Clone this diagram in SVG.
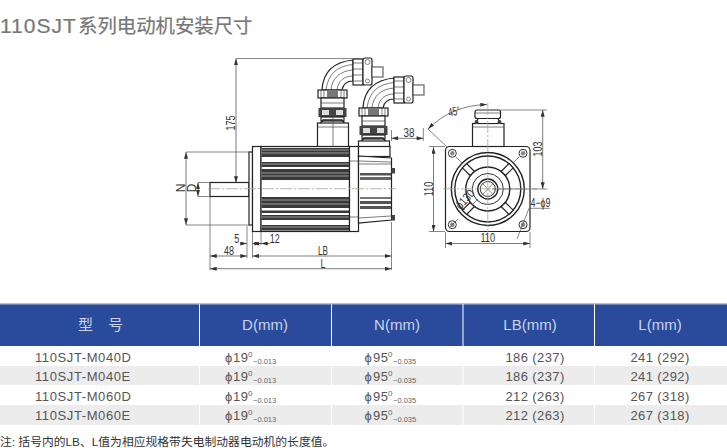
<svg xmlns="http://www.w3.org/2000/svg" xmlns:xlink="http://www.w3.org/1999/xlink" width="727" height="448" viewBox="0 0 727 448">
<style>
text{font-family:"Liberation Sans","Noto Sans CJK SC",sans-serif}
.l{fill:none;stroke:#333;stroke-width:1}
.b{fill:none;stroke:#222;stroke-width:1.4}
.w{fill:#fff;stroke:#222;stroke-width:1.2}
.t{fill:none;stroke:#444;stroke-width:.7}
.c{fill:none;stroke:#a5a595;stroke-width:.8;stroke-dasharray:12 2 2 2}
.d{fill:none;stroke:#555;stroke-width:.7}
.a{fill:none;stroke:#444;stroke-width:.7;marker-start:url(#ar);marker-end:url(#ar)}
.e{fill:none;stroke:#444;stroke-width:.7;marker-end:url(#ar)}
.dim{font-size:12px;fill:#333;text-anchor:middle}
.h{font-size:15px;fill:#c9d4ec;text-anchor:middle}
.r{font-size:13px;fill:#555;letter-spacing:.6px}
.m{font-size:13px;fill:#555;text-anchor:middle;letter-spacing:.4px}
.s{font-size:7.500px;fill:#666}
.u{font-size:8px;fill:#666}
</style>
<defs>
<marker id="ar" viewBox="0 0 10 6" refX="10" refY="3" markerWidth="7" markerHeight="4" markerUnits="userSpaceOnUse" orient="auto-start-reverse"><path d="M0 0L10 3L0 6Z" fill="#333"/></marker>
<g id="plug">
<path class="w" d="M322 90C323 72 333 62 353 60V81C347 81 343 84 342 90Z"/>
<path class="t" d="M326 90C328 74 337 66 353 64.500M331 90C332 78 340 71 353 70M337 90C338 81 344 76 353 76"/>
<rect class="w" x="353" y="59" width="10" height="26"/>
<path class="t" d="M353 63H363M353 69H363M353 75H363M353 81H363"/>
<rect class="w" x="363" y="58" width="9" height="27" rx="2"/>
<circle class="d" cx="367.500" cy="62" r="2.500" fill="#888"/><circle class="d" cx="367.500" cy="81" r="2"/>
<rect class="w" x="372" y="67" width="11" height="10" stroke-opacity=".7"/>
<rect class="w" x="318" y="90" width="29" height="8"/>
<rect x="327" y="91" width="11" height="6.500" fill="#777"/>
<path class="t" d="M321 90V98M324 90V98M341 90V98M344 90V98"/>
<rect class="w" x="321" y="98" width="23" height="10"/>
<path class="t" d="M321 103H344"/>
<rect x="318.500" y="108" width="28" height="9" fill="#444"/>
<rect x="322" y="110" width="7" height="5" fill="#ddd"/><rect x="336" y="110" width="7" height="5" fill="#ddd"/>
<rect class="w" x="321" y="117" width="23" height="4"/>
<path class="b" d="M320 124L323 120H342L345 124"/>
</g>
</defs>
<rect width="727" height="448" fill="#fff"/>
<g id="title">
<text x="0" y="33" font-size="21" fill="#777" stroke="#777" stroke-width=".2" letter-spacing="1">110SJT</text>
<text x="78" y="33" font-size="19.400" fill="#777" stroke="#777" stroke-width=".2">系列电动机安装尺寸</text>
</g>
<g id="motor-side">
<use xlink:href="#plug" href="#plug"/>
<use xlink:href="#plug" href="#plug" x="41" y="18"/>
<rect class="w" x="317.500" y="123" width="31" height="24"/>
<path class="t" d="M317.500 127H348.500M333 117V147"/>
<rect class="w" x="358.500" y="141" width="31" height="6"/>
<rect class="w" x="210" y="182.500" width="39" height="14"/>
<rect class="w" x="249" y="152" width="3.500" height="73"/>
<rect class="w" x="252.500" y="146.500" width="8.500" height="85"/>
<rect class="w" x="261" y="146.500" width="88.500" height="85"/>
<g fill="#3a3a3a">
<rect x="261.500" y="148" width="87.500" height="9"/><rect x="261.500" y="162" width="87.500" height="5"/>
<rect x="261.500" y="169" width="87.500" height="11"/>
<rect x="261.500" y="197" width="87.500" height="11"/><rect x="261.500" y="210.500" width="87.500" height="2.500"/>
<rect x="261.500" y="215" width="87.500" height="5"/><rect x="261.500" y="225" width="87.500" height="5.500"/>
</g>
<path stroke="#ddd" stroke-width=".6" d="M261.500 150H349M261.500 153H349M261.500 164H349M261.500 173H349M261.500 176H349M261.500 200H349M261.500 204H349M261.500 217H349M261.500 227H349"/>
<rect class="w" x="349.500" y="146.500" width="9" height="85"/>
<path class="t" d="M349.500 161H358.500M349.500 217H358.500"/>
<rect class="w" x="358.500" y="146.500" width="31.500" height="10"/>
<path class="w" d="M358.500 156L391.500 158V220L358.500 223Z"/>
<path class="t" d="M358.500 164H391M358.500 161L391.500 162M358.500 218L391 216"/>
<rect x="360" y="173" width="31" height="2.500" fill="#555"/><rect x="360" y="177" width="31" height="3" fill="#666"/>
<rect x="360" y="197" width="31" height="2" fill="#777"/><rect x="360" y="201" width="31" height="3" fill="#555"/><rect x="360" y="206" width="31" height="3" fill="#555"/>
<rect x="391.500" y="168" width="3.500" height="5.500" fill="#444"/><rect x="391.500" y="215" width="3.500" height="5.500" fill="#444"/>
<path class="c" d="M208 188.700H396"/>
</g>
<g id="motor-front">
<rect class="w" x="445.500" y="146.500" width="84.500" height="85" rx="4"/>
<circle class="b" cx="487.800" cy="189" r="36.500"/><circle class="b" cx="487.800" cy="189" r="33"/>
<circle class="b" cx="487.800" cy="189" r="22"/><circle class="l" cx="487.800" cy="189" r="15.500"/>
<circle class="b" cx="487.800" cy="189" r="10"/><circle class="l" cx="487.800" cy="189" r="7.500"/>
<path class="w" d="M470.100 175.500L462.400 167.800L466.600 163.600L474.300 171.300ZM505.500 175.500L513.200 167.800L509 163.600L501.300 171.300ZM470.100 202.500L462.400 210.200L466.600 214.400L474.300 206.700ZM505.500 202.500L513.200 210.200L509 214.400L501.300 206.700Z"/>
<g class="l"><circle cx="452.300" cy="153.300" r="4"/><circle cx="523" cy="153.300" r="4"/><circle cx="452.300" cy="224.700" r="4"/><circle cx="523" cy="224.700" r="4"/></g>
<g fill="#888"><circle cx="452.300" cy="153.300" r="2.200"/><circle cx="523" cy="153.300" r="2.200"/><circle cx="452.300" cy="224.700" r="2.200"/><circle cx="523" cy="224.700" r="2.200"/></g>
<path class="d" d="M456 157L462 163M519 157L513 163M481.500 182.500L494 195.500M481.500 195.500L494 182.500"/>
<rect class="w" x="472.500" y="123.500" width="31.500" height="23"/>
<path class="t" d="M472.500 127H504"/>
<path class="w" d="M476 123.500L478 118.500H498L500 123.500Z"/>
<rect class="w" x="475" y="110" width="25.500" height="8.500" rx="2"/>
<path class="t" d="M475 113H500.500"/>
<circle cx="476.500" cy="122" r="2" fill="#444"/><circle cx="499.500" cy="122" r="2" fill="#444"/>
<path class="c" d="M487.800 103V244M443 188.800H537"/>
</g>
<g id="dimensions">
<path class="d" d="M236 58.500H361M186 152H249M186 225H249M198 182.500H210M198 196.500H210M210 197V270M247 226V258M252.500 232V258M261 232V245M391.500 222V270M391.500 130V141M423.300 128V141M429 146.500H445M429 231.500H445M445.500 232V248M530 232V248M500 110H547M492 189H547M428 129L447 147"/>
<path class="a" d="M236 58.500V183"/>
<path class="a" d="M186 152V225"/>
<path class="a" d="M198 182.500V196.500"/>
<path class="e" d="M240 243.500H247"/>
<path class="e" d="M259 243.500H252.500"/>
<path class="e" d="M253 243.500H261"/>
<path class="e" d="M270 243.500H261"/>
<path class="a" d="M210 256H247"/>
<path class="a" d="M252.500 256H391.500"/>
<path class="a" d="M210 268.700H391.500"/>
<path class="a" d="M391.500 138.300H423.300"/>
<path class="a" d="M433.500 147V231.500"/>
<path class="a" d="M445.500 243.500H530"/>
<path class="a" d="M542.700 110V189"/>
<path class="a" d="M428 129C444 113 464 105 487 104.500"/>
<path class="d" d="M529 208.300H550M529 208.300L517 239M450 227L458 219M472 205L478 199"/>
<text class="dim" transform="translate(234.500 123) rotate(-90)" textLength="15" lengthAdjust="spacingAndGlyphs">175</text>
<text class="dim" transform="translate(185 188) rotate(-90)">N</text>
<text class="dim" transform="translate(195.500 188) rotate(-90)">D</text>
<text class="dim" x="236.700" y="243" textLength="5" lengthAdjust="spacingAndGlyphs">5</text>
<text class="dim" x="274.700" y="243" textLength="10" lengthAdjust="spacingAndGlyphs">12</text>
<text class="dim" x="229" y="255" textLength="10" lengthAdjust="spacingAndGlyphs">48</text>
<text class="dim" x="323" y="255" textLength="10" lengthAdjust="spacingAndGlyphs">LB</text>
<text class="dim" x="323" y="267.700" textLength="5" lengthAdjust="spacingAndGlyphs">L</text>
<text class="dim" x="409" y="137" textLength="11" lengthAdjust="spacingAndGlyphs">38</text>
<text class="dim" transform="translate(432.500 189) rotate(-90)" textLength="14.500" lengthAdjust="spacingAndGlyphs">110</text>
<text class="dim" x="487.700" y="242" textLength="14.500" lengthAdjust="spacingAndGlyphs">110</text>
<text class="dim" transform="translate(541.700 149) rotate(-90)" textLength="15" lengthAdjust="spacingAndGlyphs">103</text>
<text class="dim" transform="translate(455 115.500) rotate(-12)" textLength="12" lengthAdjust="spacingAndGlyphs">45°</text>
<text class="dim" transform="translate(468 202) rotate(-48)" textLength="22" lengthAdjust="spacingAndGlyphs">ϕ130</text>
<text class="dim" x="540.500" y="207" textLength="20" lengthAdjust="spacingAndGlyphs">4−ϕ9</text>
</g>
<g id="table">
<rect x="0" y="303" width="727" height="43" fill="#2a4b9b"/>
<rect x="0" y="303" width="727" height="1.500" fill="#b3c0d8"/>
<rect x="0" y="366" width="727" height="19" fill="#ececec"/>
<rect x="0" y="405" width="727" height="20" fill="#ececec"/>
<path stroke="#fff" stroke-width="1" d="M199.500 304V425M331.500 304V425M463 304V425M594.500 304V425"/>
<text class="h" x="100.500" y="330" font-size="14">型　号</text>
<text class="h" x="265" y="330">D(mm)</text><text class="h" x="397" y="330">N(mm)</text><text class="h" x="530" y="330">LB(mm)</text><text class="h" x="660" y="330">L(mm)</text>
<text class="r" x="35" y="362">110SJT-M040D</text><text class="r" x="35" y="381">110SJT-M040E</text><text class="r" x="35" y="401">110SJT-M060D</text><text class="r" x="35" y="420">110SJT-M060E</text>
<g id="col-d">
<text class="r" x="225" y="362">ϕ</text><text class="r" x="233" y="362">19</text><text class="u" x="248" y="357">0</text><text class="s" x="253" y="364">−0.013</text>
<text class="r" x="225" y="381">ϕ</text><text class="r" x="233" y="381">19</text><text class="u" x="248" y="376">0</text><text class="s" x="253" y="383">−0.013</text>
<text class="r" x="225" y="401">ϕ</text><text class="r" x="233" y="401">19</text><text class="u" x="248" y="396">0</text><text class="s" x="253" y="403">−0.013</text>
<text class="r" x="225" y="420">ϕ</text><text class="r" x="233" y="420">19</text><text class="u" x="248" y="415">0</text><text class="s" x="253" y="422">−0.013</text>
</g>
<g id="col-n">
<text class="r" x="364.500" y="362">ϕ</text><text class="r" x="373" y="362">95</text><text class="u" x="388" y="357">0</text><text class="s" x="393" y="364">−0.035</text>
<text class="r" x="364.500" y="381">ϕ</text><text class="r" x="373" y="381">95</text><text class="u" x="388" y="376">0</text><text class="s" x="393" y="383">−0.035</text>
<text class="r" x="364.500" y="401">ϕ</text><text class="r" x="373" y="401">95</text><text class="u" x="388" y="396">0</text><text class="s" x="393" y="403">−0.035</text>
<text class="r" x="364.500" y="420">ϕ</text><text class="r" x="373" y="420">95</text><text class="u" x="388" y="415">0</text><text class="s" x="393" y="422">−0.035</text>
</g>
<text class="m" x="535" y="362">186 (237)</text><text class="m" x="535" y="381">186 (237)</text><text class="m" x="535" y="401">212 (263)</text><text class="m" x="535" y="420">212 (263)</text>
<text class="m" x="660" y="362">241 (292)</text><text class="m" x="660" y="381">241 (292)</text><text class="m" x="660" y="401">267 (318)</text><text class="m" x="660" y="420">267 (318)</text>
</g>
<text id="note" x="0" y="445.500" font-size="11.800" fill="#333">注: 括号内的LB、L值为相应规格带失电制动器电动机的长度值。</text>
</svg>
